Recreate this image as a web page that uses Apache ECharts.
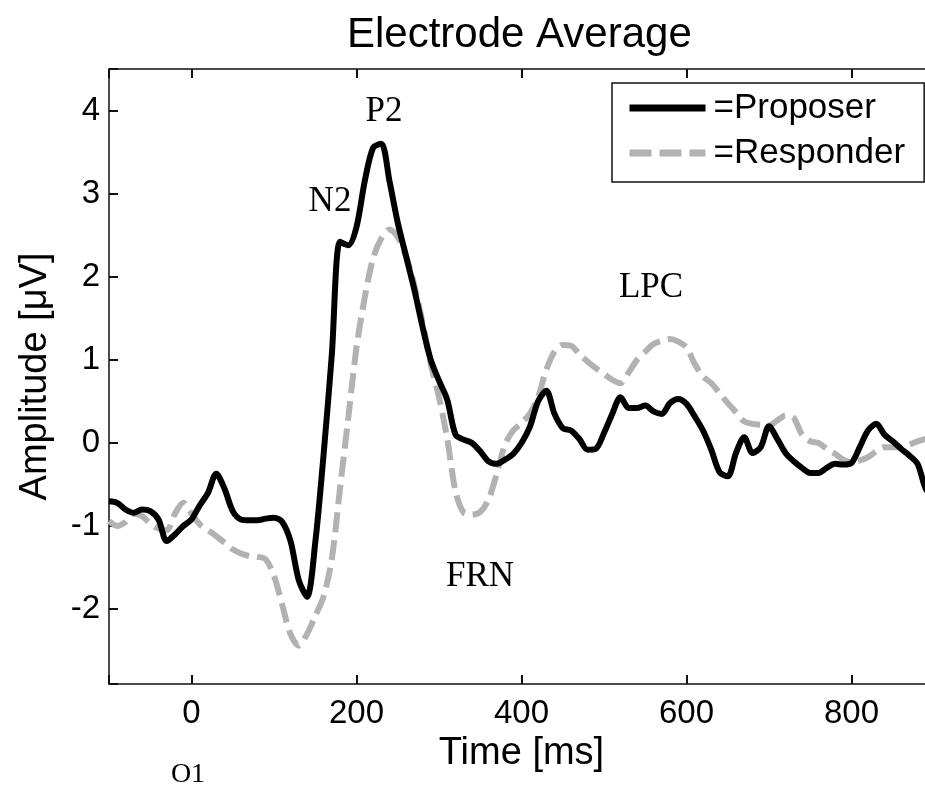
<!DOCTYPE html>
<html>
<head>
<meta charset="utf-8">
<title>Electrode Average</title>
<script src="https://cdn.jsdelivr.net/npm/echarts@6/dist/echarts.min.js"></script>
<style>
  html, body { margin: 0; padding: 0; background: #fff; }
  #linechart { width: 925px; height: 789px; }
</style>
</head>
<body>
<div id="linechart"></div>
<script>
// time axis (ms), one sample every 10 ms
var timeMs = [
  -100, -90, -80, -70, -60, -50, -40, -30, -20, -10,
  0, 10, 20, 30, 40, 50, 60, 70, 80, 90,
  100, 110, 120, 130, 140, 150, 160, 170, 180, 190,
  200, 210, 220, 230, 240, 250, 260, 270, 280, 290,
  300, 310, 320, 330, 340, 350, 360, 370, 380, 390,
  400, 410, 420, 430, 440, 450, 460, 470, 480, 490,
  500, 510, 520, 530, 540, 550, 560, 570, 580, 590,
  600, 610, 620, 630, 640, 650, 660, 670, 680, 690,
  700, 710, 720, 730, 740, 750, 760, 770, 780, 790,
  800, 810, 820, 830, 840, 850, 860, 870, 880, 890,
  900
]

// amplitude (uV)
var proposer = [
  -0.70, -0.72, -0.80, -0.84, -0.80, -0.82, -0.92, -1.18, -1.10, -1.00,
  -0.92, -0.75, -0.60, -0.37, -0.55, -0.82, -0.92, -0.93, -0.93, -0.91,
  -0.90, -0.95, -1.18, -1.65, -1.85, -1.20, -0.15, 1.05, 2.42, 2.38,
  2.60, 3.15, 3.55, 3.60, 3.15, 2.65, 2.25, 1.85, 1.40, 1.00,
  0.75, 0.52, 0.10, 0.04, 0.00, -0.10, -0.22, -0.25, -0.20, -0.13,
  0.00, 0.19, 0.50, 0.63, 0.35, 0.18, 0.15, 0.05, -0.08, -0.07,
  0.12, 0.35, 0.55, 0.42, 0.42, 0.45, 0.38, 0.35, 0.48, 0.53,
  0.47, 0.32, 0.15, -0.08, -0.35, -0.40, -0.12, 0.07, -0.12, -0.05,
  0.20, 0.05, -0.12, -0.22, -0.30, -0.36, -0.36, -0.30, -0.25, -0.26,
  -0.24, -0.05, 0.15, 0.23, 0.10, 0.02, -0.07, -0.15, -0.25, -0.55,
  -0.68
]

var responder = [
  -0.94, -1.00, -0.95, -0.85, -0.88, -0.97, -1.03, -1.05, -0.85, -0.72,
  -0.85, -0.98, -1.05, -1.12, -1.20, -1.28, -1.33, -1.36, -1.37, -1.40,
  -1.60, -1.95, -2.30, -2.44, -2.30, -2.08, -1.85, -1.40, -0.55, 0.30,
  1.15, 1.75, 2.22, 2.46, 2.57, 2.48, 2.25, 1.90, 1.45, 0.95,
  0.55, 0.05, -0.58, -0.84, -0.86, -0.83, -0.68, -0.37, -0.02, 0.15,
  0.24, 0.35, 0.55, 0.88, 1.10, 1.18, 1.17, 1.07, 0.98, 0.90,
  0.83, 0.76, 0.72, 0.85, 1.00, 1.10, 1.19, 1.23, 1.25, 1.22,
  1.15, 0.95, 0.80, 0.72, 0.60, 0.48, 0.37, 0.26, 0.23, 0.22,
  0.21, 0.27, 0.33, 0.30, 0.10, 0.02, 0.00, -0.07, -0.13, -0.20,
  -0.23, -0.21, -0.17, -0.10, -0.05, -0.05, -0.05, -0.02, 0.02, 0.05,
  0.07
]

var xTicks = [0, 200, 400, 600, 800]
var yTicks = [-2, -1, 0, 1, 2, 3, 4]

// component labels written on the figure
var peakLabels = [
  { text: 'P2', x: 384, y: 112, size: 35 },
  { text: 'N2', x: 330, y: 202, size: 35 },
  { text: 'LPC', x: 651, y: 288, size: 35 },
  { text: 'FRN', x: 480, y: 577, size: 35 },
  { text: 'O1', x: 188, y: 775, size: 28 }
]

function pairs(xs, ys) {
  return xs.map(function (x, i) { return [x, ys[i]] })
}

var SANS = 'Liberation Sans, Arial, sans-serif'
var SERIF = 'Liberation Serif, Times New Roman, serif'
var GREY = '#b2b2b2'
var INK = '#111'

// fresh objects for every axis so nothing is shared between them
function boxLine() {
  return { show: true, onZero: false, lineStyle: { color: INK, width: 1.5 } }
}
function boxTick() {
  return { show: true, inside: true, length: 9, lineStyle: { color: INK, width: 2 } }
}

var chart = echarts.init(document.getElementById('linechart'), null, { renderer: 'canvas' })

chart.setOption({
  animation: false,
  backgroundColor: '#fff',
  title: {
    text: 'Electrode Average',
    left: 342,
    top: 9,
    textStyle: { fontFamily: SANS, fontSize: 42, fontWeight: 'normal', color: '#000' }
  },
  grid: {
    left: 109,
    top: 69,
    right: -9,
    bottom: 105,
    containLabel: false,
    outerBoundsMode: 'none'
  },
  legend: {
    orient: 'vertical',
    left: 612,
    top: 83,
    padding: [6, 19, 10, 14],
    itemWidth: 76,
    itemHeight: 14,
    itemGap: 7,
    borderColor: INK,
    borderWidth: 1.5,
    backgroundColor: '#fff',
    itemStyle: { opacity: 0 },
    data: [
      { name: '=Proposer', lineStyle: { width: 7, color: '#000', type: 'solid' } },
      { name: '=Responder', lineStyle: { width: 7, color: GREY, type: [22, 8] } }
    ],
    textStyle: { fontFamily: SANS, fontSize: 35, lineHeight: 38, color: '#000', padding: [0, 0, 0, 3] }
  },
  xAxis: [
    {
      type: 'value',
      position: 'bottom',
      min: -100,
      max: 900,
      splitNumber: 5,
      name: 'Time [ms]',
      nameLocation: 'middle',
      nameGap: 48,
      nameTextStyle: { fontFamily: SANS, fontSize: 38, color: '#000' },
      axisLine: boxLine(),
      axisTick: boxTick(),
      splitLine: { show: false },
      axisLabel: {
        fontFamily: SANS,
        fontSize: 33,
        color: '#000',
        margin: 13,
        formatter: function (v) { return xTicks.indexOf(v) >= 0 ? String(v) : '' }
      }
    },
    {
      type: 'value',
      position: 'top',
      min: -100,
      max: 900,
      splitNumber: 5,
      axisLine: boxLine(),
      axisTick: boxTick(),
      splitLine: { show: false },
      axisLabel: { show: false }
    }
  ],
  yAxis: [
    {
      type: 'value',
      position: 'left',
      min: -2.9,
      max: 4.5,
      splitNumber: 7,
      name: 'Amplitude [\u03bcV]',
      nameLocation: 'middle',
      nameGap: 54,
      nameTextStyle: { fontFamily: SANS, fontSize: 38, color: '#000' },
      axisLine: boxLine(),
      axisTick: boxTick(),
      splitLine: { show: false },
      axisLabel: {
        fontFamily: SANS,
        fontSize: 33,
        color: '#000',
        margin: 9,
        formatter: function (v) { return yTicks.indexOf(v) >= 0 ? String(v) : '' }
      }
    },
    {
      type: 'value',
      position: 'right',
      min: -2.9,
      max: 4.5,
      splitNumber: 7,
      axisLine: boxLine(),
      axisTick: boxTick(),
      splitLine: { show: false },
      axisLabel: { show: false }
    }
  ],
  series: [
    {
      name: '=Responder',
      type: 'line',
      data: pairs(timeMs, responder),
      smooth: 0.3,
      showSymbol: false,
      symbol: 'none',
      z: 2,
      itemStyle: { color: GREY },
      lineStyle: { color: GREY, width: 6, type: [20, 8] }
    },
    {
      name: '=Proposer',
      type: 'line',
      data: pairs(timeMs, proposer),
      smooth: 0.3,
      showSymbol: false,
      symbol: 'none',
      z: 3,
      itemStyle: { color: '#000' },
      lineStyle: { color: '#000', width: 6 }
    }
  ],
  graphic: peakLabels.map(function (p) {
    return {
      type: 'text',
      x: p.x,
      y: p.y,
      z: 10,
      style: {
        text: p.text,
        fontFamily: SERIF,
        fontSize: p.size,
        fill: '#000',
        align: 'center',
        verticalAlign: 'middle'
      }
    }
  })
})
</script>
</body>
</html>
